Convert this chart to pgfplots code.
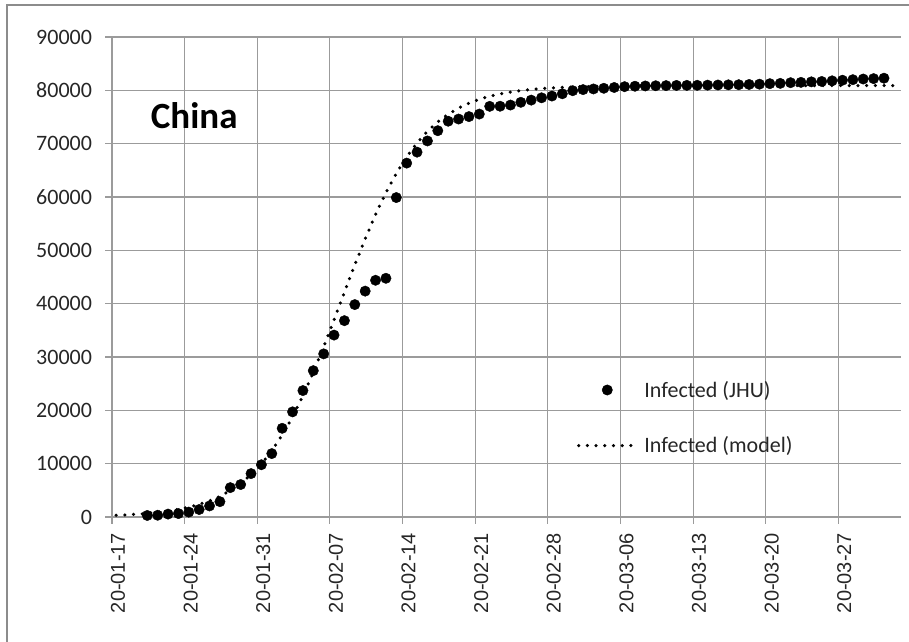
\documentclass[border=0pt]{standalone}
\usepackage{pgfplots}
\pgfplotsset{compat=1.18}
\usepackage{fontspec}
\setmainfont{Carlito}
\newfontfamily\arialfont{Liberation Sans}
\definecolor{gridgray}{RGB}{155,155,155}
\definecolor{framegray}{RGB}{140,140,140}
\begin{document}
\begin{tikzpicture}
\useasboundingbox (-112pt,-124pt) rectangle (797pt,517pt);
\draw[framegray, line width=2pt] (-105pt,-140pt) -- (-105pt,512pt) -- (830pt,512pt);
\begin{axis}[
  at={(0pt,0pt)}, anchor=south west,
  scale only axis, width=789pt, height=480pt,
  xmin=0, xmax=76.04, ymin=0, ymax=90000,
  axis line style={draw=none},
  xtick={0,7,...,70},
  xticklabels={20-01-17,20-01-24,20-01-31,20-02-07,20-02-14,20-02-21,20-02-28,20-03-06,20-03-13,20-03-20,20-03-27},
  ytick={0,10000,...,90000},
  grid=major, major grid style={gridgray, line width=1.1pt},
  tick align=outside, major tick length=6.5pt,
  xtick pos=left, ytick pos=left,
  tick style={gridgray, line width=1.1pt},
  /pgf/number format/1000 sep={}, /pgf/number format/assume math mode=true,
  scaled y ticks=false,
  yticklabel style={font=\fontsize{22}{26}\selectfont, text=black!85, xshift=-10pt},
  xticklabel style={font=\arialfont\fontsize{20}{22}\selectfont, text=black!85, xshift=6pt, yshift=-6pt, rotate=90, anchor=east},
  legend cell align=left,
  legend style={at={(0.589,0.2067)}, anchor=west, draw=none, fill=none, inner sep=0pt,
    row sep=34pt, font=\fontsize{22}{26}\selectfont, nodes={inner sep=2pt, text=black!85}},
]
\addplot[only marks, mark=*, mark size=5.2pt, black,
  legend image code/.code={\path (0pt,0pt) (62pt,0pt); \fill[black] (28.6pt,0pt) circle (5.2pt);}]
  coordinates {
(3.4,290) (4.4,330) (5.4,548) (6.4,643) (7.4,920) (8.4,1406) (9.4,2075) (10.4,2877)
(11.4,5509) (12.4,6087) (13.4,8141) (14.4,9802) (15.4,11891) (16.4,16630) (17.4,19716)
(18.4,23707) (19.4,27440) (20.4,30587) (21.4,34110) (22.4,36814) (23.4,39829) (24.4,42354)
(25.4,44386) (26.4,44759) (27.4,59895) (28.4,66358) (29.4,68413) (30.4,70513) (31.4,72434)
(32.4,74211) (33.4,74619) (34.4,75077) (35.4,75550) (36.4,77001) (37.4,77022) (38.4,77241)
(39.4,77754) (40.4,78166) (41.4,78600) (42.4,78928) (43.4,79356) (44.4,79932) (45.4,80136)
(46.4,80261) (47.4,80386) (48.4,80537) (49.4,80690) (50.4,80770) (51.4,80823) (52.4,80860)
(53.4,80887) (54.4,80921) (55.4,80932) (56.4,80945) (57.4,80977) (58.4,81003) (59.4,81033)
(60.4,81058) (61.4,81102) (62.4,81156) (63.4,81250) (64.4,81305) (65.4,81435) (66.4,81498)
(67.4,81591) (68.4,81661) (69.4,81782) (70.4,81897) (71.4,81999) (72.4,82122) (73.4,82198)
(74.4,82279)
};
\addlegendentry{Infected (JHU)}
\addplot[black, line width=3.5pt, line cap=round, dash pattern=on 0pt off 8.7pt,
  legend image code/.code={\path (0pt,0pt) (62pt,0pt); \draw[black, line width=3.5pt, line cap=round, dash pattern=on 0pt off 8.7pt] (0pt,0pt) -- (55pt,0pt);}]
  coordinates {
(0.4,314) (1.4,405) (2.4,523) (3.4,674) (4.4,868) (5.4,1117) (6.4,1437) (7.4,1847)
(8.4,2371) (9.4,3037) (10.4,3880) (11.4,4945) (12.4,6276) (13.4,7924) (14.4,9951)
(15.4,12408) (16.4,15351) (17.4,18784) (18.4,22725) (19.4,27130) (20.4,31926) (21.4,36974)
(22.4,42157) (23.4,47255) (24.4,52160) (25.4,56710) (26.4,60827) (27.4,64432) (28.4,67534)
(29.4,70152) (30.4,72322) (31.4,74097) (32.4,75530) (33.4,76683) (34.4,77594) (35.4,78316)
(36.4,78886) (37.4,79332) (38.4,79681) (39.4,79953) (40.4,80165) (41.4,80330) (42.4,80457)
(43.4,80558) (44.4,80635) (45.4,80694) (46.4,80741) (47.4,80776) (48.4,80805) (49.4,80826)
(50.4,80843) (52.4,80865) (55.4,80883) (60.4,80895) (65.4,80898) (75.4,80900)
};
\addlegendentry{Infected (model)}
\node[anchor=base west, inner sep=0pt, font=\bfseries\fontsize{37}{40}\selectfont] at (axis cs:3.73,72830) {China};
\end{axis}
\end{tikzpicture}
\end{document}
